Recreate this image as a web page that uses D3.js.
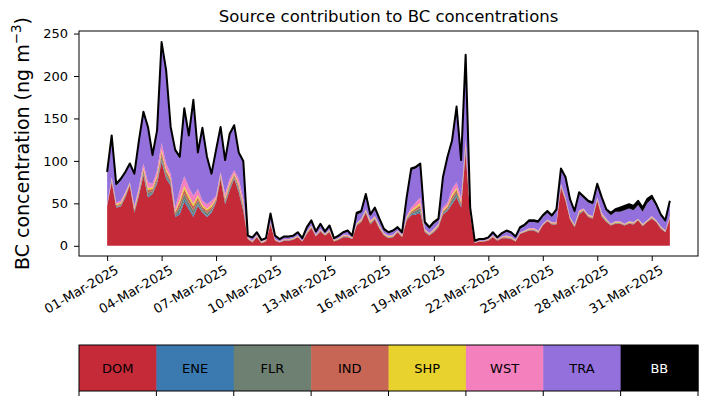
<!DOCTYPE html>
<html>
<head>
<meta charset="utf-8">
<script src="https://cdn.jsdelivr.net/npm/d3@7"></script>
<style>
  body { margin: 0; background: #fff; }
  svg { font-family: "DejaVu Sans", sans-serif; }
</style>
</head>
<body>
<div class="container"></div>
<script>
// source categories and colours (stack order, bottom to top)
const sources = ["DOM", "ENE", "FLR", "IND", "SHP", "WST", "TRA", "BB"];
const colors = ["#c52a38", "#3a7ab1", "#6e8071", "#c86656", "#e8d22e", "#f480be", "#9370db", "#000000"];

// tick dates on the time axis
const tickDates = ["2025-03-01", "2025-03-04", "2025-03-07", "2025-03-10", "2025-03-13", "2025-03-16",
  "2025-03-19", "2025-03-22", "2025-03-25", "2025-03-28", "2025-03-31"];
const yTicks = [0, 50, 100, 150, 200, 250];

// 6-hourly contributions, ng m-3, from 01-Mar-2025 00:00
const DOM = [47,75,45,46,57,71,39,59,83,57,
  61,73,99,79,71,34,37,52,43,34,
  47,39,34,39,51,79,49,65,79,63,
  41,8,4,10,3,5,25,6,4,6,
  6,7,10,5,14,21,11,17,12,16,
  5,7,10,10,8,24,28,39,25,31,
  20,12,9,10,16,10,30,36,37,39,
  16,12,16,22,37,41,49,57,45,110,
  36,3,5,5,6,10,6,9,9,8,
  5,14,16,18,18,15,24,29,25,25,
  69,53,31,22,37,41,34,32,53,34,
  28,24,26,26,24,26,25,30,23,28,
  32,28,20,16,32];
const ENE = [.2,.6,.6,.7,.6,.4,.8,1,1.4,1.8,
  1.2,1.6,2.2,1.8,1.4,1.1,2.8,3,2.6,2.5,
  2,1.4,1.5,1.4,.8,.8,1.2,1.4,1,1.6,
  1.4,.2,.2,.3,.2,.2,.3,.2,.1,.2,
  .2,.2,.2,.1,.3,.3,.2,.3,.2,.3,
  .2,.2,.3,.3,.2,.3,.4,.4,.5,.4,
  .4,.3,.3,.3,.2,.3,.5,.9,1.4,1.8,
  .4,.3,.4,.4,.8,1,1.8,1.8,1.2,1.5,
  .4,.1,.1,.1,.2,.2,.2,.2,.3,.3,
  .2,.2,.2,.3,.3,.3,.2,.2,.3,.3,
  .4,.4,.3,.3,.5,.3,.3,.3,.4,.5,
  .4,.2,.3,.3,.2,.3,.3,.2,.3,.2,
  .3,.2,.3,.2,.3];
const FLR = [.4,1.2,1.2,1.4,1.2,.8,1.6,2,2.8,3.6,
  2.4,3.2,4.4,3.6,2.8,2.2,5.6,6,5.2,5,
  4,2.8,3,2.8,1.6,1.6,2.4,2.8,2,3.2,
  2.8,.4,.4,.6,.4,.4,.6,.4,.2,.4,
  .4,.4,.4,.2,.6,.6,.4,.6,.4,.6,
  .4,.4,.6,.6,.4,.6,.8,.8,1,.8,
  .8,.6,.6,.6,.4,.6,1,1.8,2.8,3.6,
  .8,.6,.8,.8,1.6,2,3.6,3.6,2.4,3,
  .8,.2,.2,.2,.4,.4,.4,.4,.6,.6,
  .4,.4,.4,.6,.6,.6,.4,.4,.6,.6,
  .8,.8,.6,.6,1,.6,.6,.6,.8,1,
  .8,.4,.6,.6,.4,.6,.6,.4,.6,.4,
  .6,.4,.6,.4,.6];
const IND = [.4,1.2,1.2,1.4,1.2,.8,1.6,2,2.8,3.6,
  2.4,3.2,4.4,3.6,2.8,2.2,5.6,6,5.2,5,
  4,2.8,3,2.8,1.6,1.6,2.4,2.8,2,3.2,
  2.8,.4,.4,.6,.4,.4,.6,.4,.2,.4,
  .4,.4,.4,.2,.6,.6,.4,.6,.4,.6,
  .4,.4,.6,.6,.4,.6,.8,.8,1,.8,
  .8,.6,.6,.6,.4,.6,1,1.8,2.8,3.6,
  .8,.6,.8,.8,1.6,2,3.6,3.6,2.4,3,
  .8,.2,.2,.2,.4,.4,.4,.4,.6,.6,
  .4,.4,.4,.6,.6,.6,.4,.4,.6,.6,
  .8,.8,.6,.6,1,.6,.6,.6,.8,1,
  .8,.4,.6,.6,.4,.6,.6,.4,.6,.4,
  .6,.4,.6,.4,.6];
const SHP = [.5,1.2,1.2,1.3,1.2,.9,1.4,1.5,2,2.4,
  1.8,2.2,2.8,2.4,2,1.6,3.2,3.4,3,3,
  2.6,2,2,2,1.4,1.4,1.8,2,1.5,2.2,
  2,.5,.5,.7,.5,.5,.7,.5,.3,.5,
  .5,.5,.5,.3,.7,.7,.5,.7,.5,.7,
  .5,.5,.7,.7,.5,.7,.9,.9,1.1,.9,
  .9,.7,.7,.7,.5,.7,1.1,1.5,2,2.4,
  .9,.7,.9,.9,1.4,1.5,2.4,2.4,1.8,2,
  .9,.3,.3,.3,.5,.5,.5,.5,.7,.7,
  .5,.5,.5,.7,.7,.7,.5,.5,.7,.7,
  .9,.9,.7,.7,1.1,.7,.7,.7,.9,1.1,
  .9,.5,.7,.7,.5,.7,.7,.5,.7,.5,
  .7,.5,.7,.5,.7];
const WST = [.5,1.8,1.8,2.2,1.8,1.1,2.6,3.5,5,6.6,
  4.2,5.8,8.2,6.6,5,3.9,10.8,11.6,10,9.5,
  7.4,5,5.5,5,2.6,2.6,4.2,5,3.5,5.8,
  5,.5,.5,.8,.5,.5,.8,.5,.2,.5,
  .5,.5,.5,.2,.8,.8,.5,.8,.5,.8,
  .5,.5,.8,.8,.5,.8,1.1,1.1,1.4,1.1,
  1.1,.8,.8,.8,.5,.8,1.4,3,5,6.6,
  1.1,.8,1.1,1.1,2.6,3.5,6.6,6.6,4.2,5.5,
  1.1,.2,.2,.2,.5,.5,.5,.5,.8,.8,
  .5,.5,.5,.8,.8,.8,.5,.5,.8,.8,
  1.1,1.1,.8,.8,1.4,.8,.8,.8,1.1,1.4,
  1.1,.5,.8,.8,.5,.8,.8,.5,.8,.5,
  .8,.5,.8,.5,.8];
const TRA = [36,47,20,24,22,20,36,53,59,63,
  32,45,117,108,53,66,38,78,59,111,
  41,84,54,30,52,51,38,51,51,29,
  43,1,3,2,1,1,8,3,2,2,
  2,2,3,2,3,4,3,4,2,3,
  1,2,2,4,1,10,7,16,5,8,
  6,3,3,4,2,2,20,44,40,38,
  6,5,6,4,34,52,55,87,42,98,
  3,1,1,1,1,3,1,3,5,4,
  3,4,5,7,7,9,8,8,6,13,
  16,22,19,14,19,12,14,14,14,16,
  9,10,11,11,16,15,14,16,14,20,
  20,17,12,10,16];
const BB = [2,2,2,2,2,2,2,2,2,2,
  2,2,2,2,2,2,2,2,2,2,
  2,2,2,2,2,2,2,2,2,2,
  2,1,1,1,1,1,2,1,1,1,
  1,1,1,1,2,2,1,2,1,2,
  1,1,1,1,1,2,2,2,2,2,
  2,2,1,1,2,1,2,2,2,2,
  2,2,2,2,2,2,2,2,2,2,
  2,1,1,1,1,1,1,1,1,1,
  1,2,2,2,2,2,2,2,2,2,
  2,2,2,2,2,2,2,2,2,2,
  2,3,3,5,5,5,5,5,5,5,
  4,2,2,2,2];

const series = { DOM, ENE, FLR, IND, SHP, WST, TRA, BB };
const start = Date.UTC(2025, 2, 1);
const day = 864e5;
const rows = DOM.map((_, i) => {
  const r = { time: new Date(start + i * day / 4) };
  sources.forEach(k => r[k] = series[k][i]);
  return r;
});

const width = 707, height = 402;
const mLeft = 79, mRight = 698, mTop = 31, mBottom = 256;
const tickFont = 13;

const svg = d3.select("div.container").append("svg")
  .attr("width", width).attr("height", height);

const first = rows[0].time, last = rows[rows.length - 1].time;
const pad = (last - first) * 0.05;
const x = d3.scaleUtc().domain([+first - pad, +last + pad]).range([mLeft, mRight]);
const y = d3.scaleLinear().domain([-12, 253]).range([mBottom, mTop]);
const color = d3.scaleOrdinal().domain(sources).range(colors);

const stacked = d3.stack().keys(sources)(rows);

const area = d3.area()
  .x(d => x(d.data.time))
  .y0(d => y(d[0]))
  .y1(d => y(d[1]));

svg.append("g").selectAll("path").data(stacked).join("path")
  .attr("fill", d => color(d.key))
  .attr("d", area);

// total line on top
const line = d3.line().x(d => x(d.data.time)).y(d => y(d[1]));
svg.append("path")
  .datum(stacked[stacked.length - 1])
  .attr("fill", "none").attr("stroke", "#000").attr("stroke-width", 2)
  .attr("stroke-linejoin", "round")
  .attr("d", line);

// axes
const xAxis = d3.axisBottom(x)
  .tickValues(tickDates.map(s => new Date(s + "T00:00:00Z")))
  .tickFormat(d3.utcFormat("%d-%b-%Y"))
  .tickSizeOuter(0).tickSize(5);
const gx = svg.append("g").attr("transform", `translate(0,${mBottom})`).call(xAxis);
gx.select(".domain").remove();
gx.selectAll("text")
  .attr("font-size", tickFont).attr("font-family", "DejaVu Sans")
  .attr("text-anchor", "end")
  .attr("transform", "translate(4,3) rotate(-30)")
  .attr("dy", "0.9em").attr("y", 4).attr("x", 0);

const yAxis = d3.axisLeft(y).tickValues(yTicks).tickSize(5).tickSizeOuter(0);
const gy = svg.append("g").attr("transform", `translate(${mLeft},0)`).call(yAxis);
gy.select(".domain").remove();
gy.selectAll("text").attr("font-size", tickFont).attr("font-family", "DejaVu Sans").attr("x", -11);

svg.append("rect")
  .attr("x", mLeft).attr("y", mTop).attr("width", mRight - mLeft).attr("height", mBottom - mTop)
  .attr("fill", "none").attr("stroke", "#000").attr("stroke-width", 1);

svg.append("text")
  .attr("x", (mLeft + mRight) / 2).attr("y", 22)
  .attr("text-anchor", "middle").attr("font-size", 16.5)
  .text("Source contribution to BC concentrations");

const ylab = svg.append("text")
  .attr("transform", `translate(29,${(mTop + mBottom) / 2}) rotate(-90)`)
  .attr("text-anchor", "middle").attr("font-size", 19);
ylab.append("tspan").text("BC concentration (ng m");
ylab.append("tspan").attr("font-size", 13.5).attr("dy", -8).text("\u22123");
ylab.append("tspan").attr("dy", 8).text(")");

// colour bar legend
const cbTop = 345, cbBottom = 391;
const band = d3.scaleBand().domain(sources).range([mLeft, mRight]);
const cb = svg.append("g");
cb.selectAll("rect").data(sources).join("rect")
  .attr("x", d => band(d)).attr("y", cbTop)
  .attr("width", band.bandwidth() + 0.5).attr("height", cbBottom - cbTop)
  .attr("fill", d => color(d));
cb.selectAll("text").data(sources).join("text")
  .attr("x", d => band(d) + band.bandwidth() / 2)
  .attr("y", (cbTop + cbBottom) / 2)
  .attr("dy", "0.35em").attr("text-anchor", "middle").attr("font-size", 13)
  .attr("fill", d => d === "BB" ? "#fff" : "#000")
  .text(d => d);
cb.append("rect")
  .attr("x", mLeft).attr("y", cbTop).attr("width", mRight - mLeft).attr("height", cbBottom - cbTop)
  .attr("fill", "none").attr("stroke", "#000").attr("stroke-width", 1);
cb.selectAll("line").data(d3.range(sources.length + 1)).join("line")
  .attr("x1", i => mLeft + i * band.bandwidth()).attr("x2", i => mLeft + i * band.bandwidth())
  .attr("y1", cbBottom).attr("y2", cbBottom + 5)
  .attr("stroke", "#000");
</script>
</body>
</html>
